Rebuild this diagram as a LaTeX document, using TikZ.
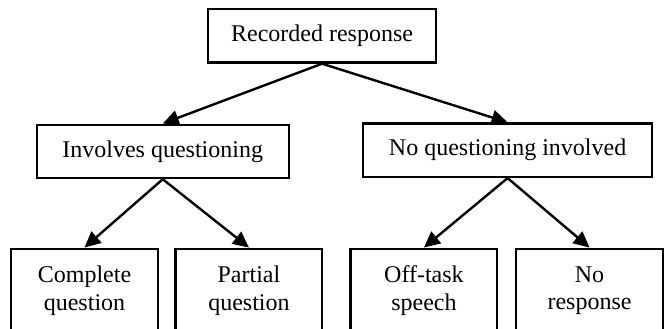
\documentclass[tikz,border=0pt]{standalone}
\usepackage{fontspec}
\setmainfont{Liberation Serif}
\usepackage{tikz}
\usetikzlibrary{arrows.meta, positioning}
\tikzset{
  block/.style={rectangle, draw=black, fill=white, align=center,
    minimum height=0.94cm, inner sep=2pt, line width=1.1pt,
    font=\fontsize{12}{13.8}\selectfont},
  leafblock/.style={block, minimum width=2.58cm, minimum height=1.48cm},
  arrow/.style={-{Triangle[length=8pt, width=7.5pt]}, line width=1.2pt, color=black}
}
\begin{document}
\begin{tikzpicture}
  \clip (0,0) rectangle (11.686,-5.781);

  % --- TOP ---
  \node[block, minimum width=4.01cm] (rec) at (5.66,-0.63) {Recorded response};

  % --- SECOND ROW ---
  \node[block, minimum width=4.43cm] (inv) at (2.86,-2.66) {Involves questioning};
  \node[block, minimum width=5.08cm] (noq) at (8.92,-2.64) {No questioning involved};

  % --- LEAVES ---
  \node[leafblock] (comp) at (1.485,-5.11) {Complete\\question};
  \node[leafblock] (part) at (4.375,-5.11) {Partial\\question};
  \node[leafblock] (off)  at (7.45,-5.11)  {Off-task\\speech};
  \node[leafblock] (nores) at (10.36,-5.11) {No\\response};

  \draw[arrow] (rec.south) -- (inv.north);
  \draw[arrow] (rec.south) -- (noq.north);
  \draw[arrow] (inv.south) -- (comp.north);
  \draw[arrow] (inv.south) -- (part.north);
  \draw[arrow] (noq.south) -- (off.north);
  \draw[arrow] (noq.south) -- (nores.north);
\end{tikzpicture}
\end{document}
